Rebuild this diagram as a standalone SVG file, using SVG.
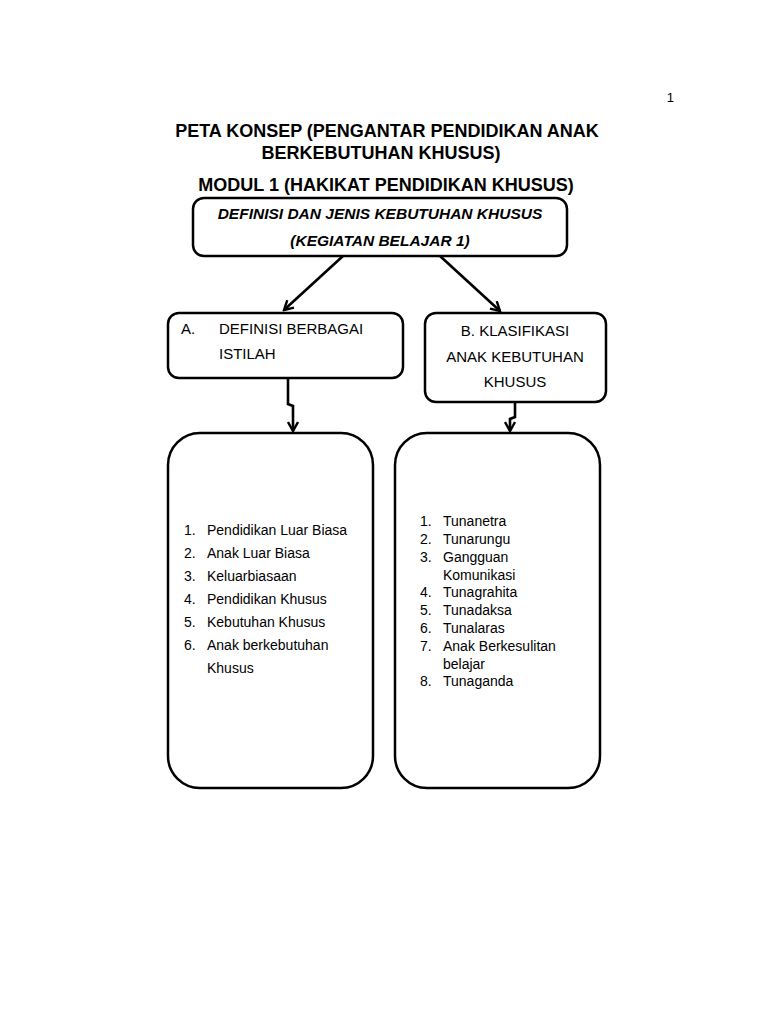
<svg xmlns="http://www.w3.org/2000/svg" width="768" height="1024" viewBox="0 0 768 1024">
<defs>
<style>
.box{fill:#fff;stroke:#000;stroke-width:2.5}
.t{font-family:"Liberation Sans",Arial,sans-serif;fill:#000}
.h{font-size:18px;font-weight:bold}
.bi{font-size:15.5px;font-weight:bold;font-style:italic}
.m{font-size:15px}
.l{font-size:14px}
.c{fill:none;stroke:#000;stroke-width:2.6}
</style>
<marker id="ah" viewBox="0 0 12 12" refX="10" refY="6" markerWidth="12" markerHeight="12" markerUnits="userSpaceOnUse" orient="auto">
<path d="M1,1 L10,6 L1,11" fill="none" stroke="#000" stroke-width="2.4"/>
</marker>
</defs>
<rect width="768" height="1024" fill="#fff"/>
<text class="t" x="674" y="102" font-size="13" text-anchor="end">1</text>
<g id="title">
<text class="t h" x="387" y="137" text-anchor="middle">PETA KONSEP (PENGANTAR PENDIDIKAN ANAK</text>
<text class="t h" x="381" y="159" text-anchor="middle">BERKEBUTUHAN KHUSUS)</text>
<text class="t h" x="386" y="191" text-anchor="middle">MODUL 1 (HAKIKAT PENDIDIKAN KHUSUS)</text>
</g>
<g id="connectors">
<line class="c" x1="343" y1="256" x2="284" y2="310" marker-end="url(#ah)"/>
<line class="c" x1="440" y1="256" x2="500" y2="311" marker-end="url(#ah)"/>
<polyline class="c" points="288,378 288,404 293,406 293,431" marker-end="url(#ah)"/>
<polyline class="c" points="515,402 515,417 510,419 510,431" marker-end="url(#ah)"/>
</g>
<g id="n-top">
<rect class="box" x="193" y="198" width="374" height="58" rx="11"/>
<text class="t bi" x="380" y="219" text-anchor="middle">DEFINISI DAN JENIS KEBUTUHAN KHUSUS</text>
<text class="t bi" x="380" y="246" text-anchor="middle">(KEGIATAN BELAJAR 1)</text>
</g>
<g id="n-a">
<rect class="box" x="168" y="313" width="235" height="65" rx="11"/>
<text class="t m" x="181" y="334">A.</text>
<text class="t m" x="219" y="334">DEFINISI BERBAGAI</text>
<text class="t m" x="219" y="359">ISTILAH</text>
</g>
<g id="n-b">
<rect class="box" x="425" y="313" width="181" height="89" rx="11"/>
<text class="t m" x="515" y="336" text-anchor="middle">B. KLASIFIKASI</text>
<text class="t m" x="515" y="362" text-anchor="middle">ANAK KEBUTUHAN</text>
<text class="t m" x="515" y="387" text-anchor="middle">KHUSUS</text>
</g>
<g id="n-list-a">
<rect class="box" x="168" y="433" width="205" height="355" rx="32"/>
<g class="t l">
<text x="184" y="535">1.</text><text x="207" y="535">Pendidikan Luar Biasa</text>
<text x="184" y="558">2.</text><text x="207" y="558">Anak Luar Biasa</text>
<text x="184" y="581">3.</text><text x="207" y="581">Keluarbiasaan</text>
<text x="184" y="604">4.</text><text x="207" y="604">Pendidikan Khusus</text>
<text x="184" y="627">5.</text><text x="207" y="627">Kebutuhan Khusus</text>
<text x="184" y="650">6.</text><text x="207" y="650">Anak berkebutuhan</text>
<text x="207" y="673">Khusus</text>
</g>
</g>
<g id="n-list-b">
<rect class="box" x="395" y="433" width="205" height="355" rx="32"/>
<g class="t l">
<text x="420" y="526">1.</text><text x="443" y="526">Tunanetra</text>
<text x="420" y="544">2.</text><text x="443" y="544">Tunarungu</text>
<text x="420" y="562">3.</text><text x="443" y="562">Gangguan</text>
<text x="443" y="580">Komunikasi</text>
<text x="420" y="597">4.</text><text x="443" y="597">Tunagrahita</text>
<text x="420" y="615">5.</text><text x="443" y="615">Tunadaksa</text>
<text x="420" y="633">6.</text><text x="443" y="633">Tunalaras</text>
<text x="420" y="651">7.</text><text x="443" y="651">Anak Berkesulitan</text>
<text x="443" y="669">belajar</text>
<text x="420" y="686">8.</text><text x="443" y="686">Tunaganda</text>
</g>
</g>
</svg>
